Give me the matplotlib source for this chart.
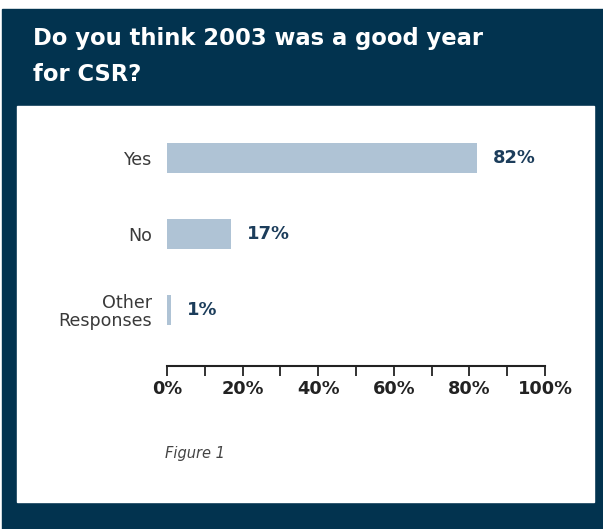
import matplotlib.pyplot as plt
from matplotlib.patches import Rectangle

categories = ["Yes", "No", "Other\nResponses"]
shares = [82, 17, 1]
title_lines = ["Do you think 2003 was a good year", "for CSR?"]

navy = "#02334f"
bar_col = "#afc3d5"
lab_col = "#1c3d5b"
ink = "#222222"

W, H = 603, 529
fig = plt.figure(figsize=(W / 100, H / 100), dpi=100)
fig.patch.set_facecolor("white")
plt.rcParams["font.family"] = "DejaVu Sans"

def px(x0, y0, x1, y1):
    # pixel box (top-left origin) -> figure fraction rectangle
    return (x0 / W, 1 - y1 / H, (x1 - x0) / W, (y1 - y0) / H)

# dark frame and white inner panel
x, y, w, h = px(2, 9, W, H)
fig.add_artist(Rectangle((x, y), w, h, transform=fig.transFigure, color=navy, zorder=0))
x, y, w, h = px(17, 106, 594, 502)
fig.add_artist(Rectangle((x, y), w, h, transform=fig.transFigure, color="white", zorder=0))

for line, base in zip(title_lines, [45, 81]):
    fig.text(33 / W, 1 - base / H, line, color="white", fontsize=16.3,
             fontweight="bold", va="baseline", ha="left")

ax = fig.add_axes(px(167, 130, 545, 366))
ax.set_facecolor("none")
pos = list(range(len(categories)))
ax.barh(pos, shares, height=0.395, color=bar_col)
for p, v in zip(pos, shares):
    ax.text(v + 4.2, p, f"{v}%", va="center", ha="left", color=lab_col,
            fontsize=12.9, fontweight="bold")

ax.set_xlim(0, 100)
ax.set_ylim(2.737, -0.368)
ax.set_yticks(pos)
ax.set_yticklabels(categories, fontsize=12.6, color="#3a3a3a", linespacing=1.0)
ax.tick_params(axis="y", length=0, pad=11)
ax.set_xticks(range(0, 101, 10))
ax.set_xticklabels(["" if t % 20 else f"{t}%" for t in range(0, 101, 10)])
for lab in ax.get_xticklabels():
    lab.set_fontsize(12.8)
    lab.set_fontweight("bold")
    lab.set_color(ink)
ax.tick_params(axis="x", direction="out", length=7, width=1.3, color=ink, pad=3)
for s in ["top", "right", "left"]:
    ax.spines[s].set_visible(False)
ax.spines["bottom"].set_linewidth(1.5)
ax.spines["bottom"].set_color(ink)

fig.text(165 / W, 1 - 458 / H, "Figure 1", fontsize=10.5, style="italic",
         color="#444444", va="baseline")

fig.savefig("out.png", dpi=100)
